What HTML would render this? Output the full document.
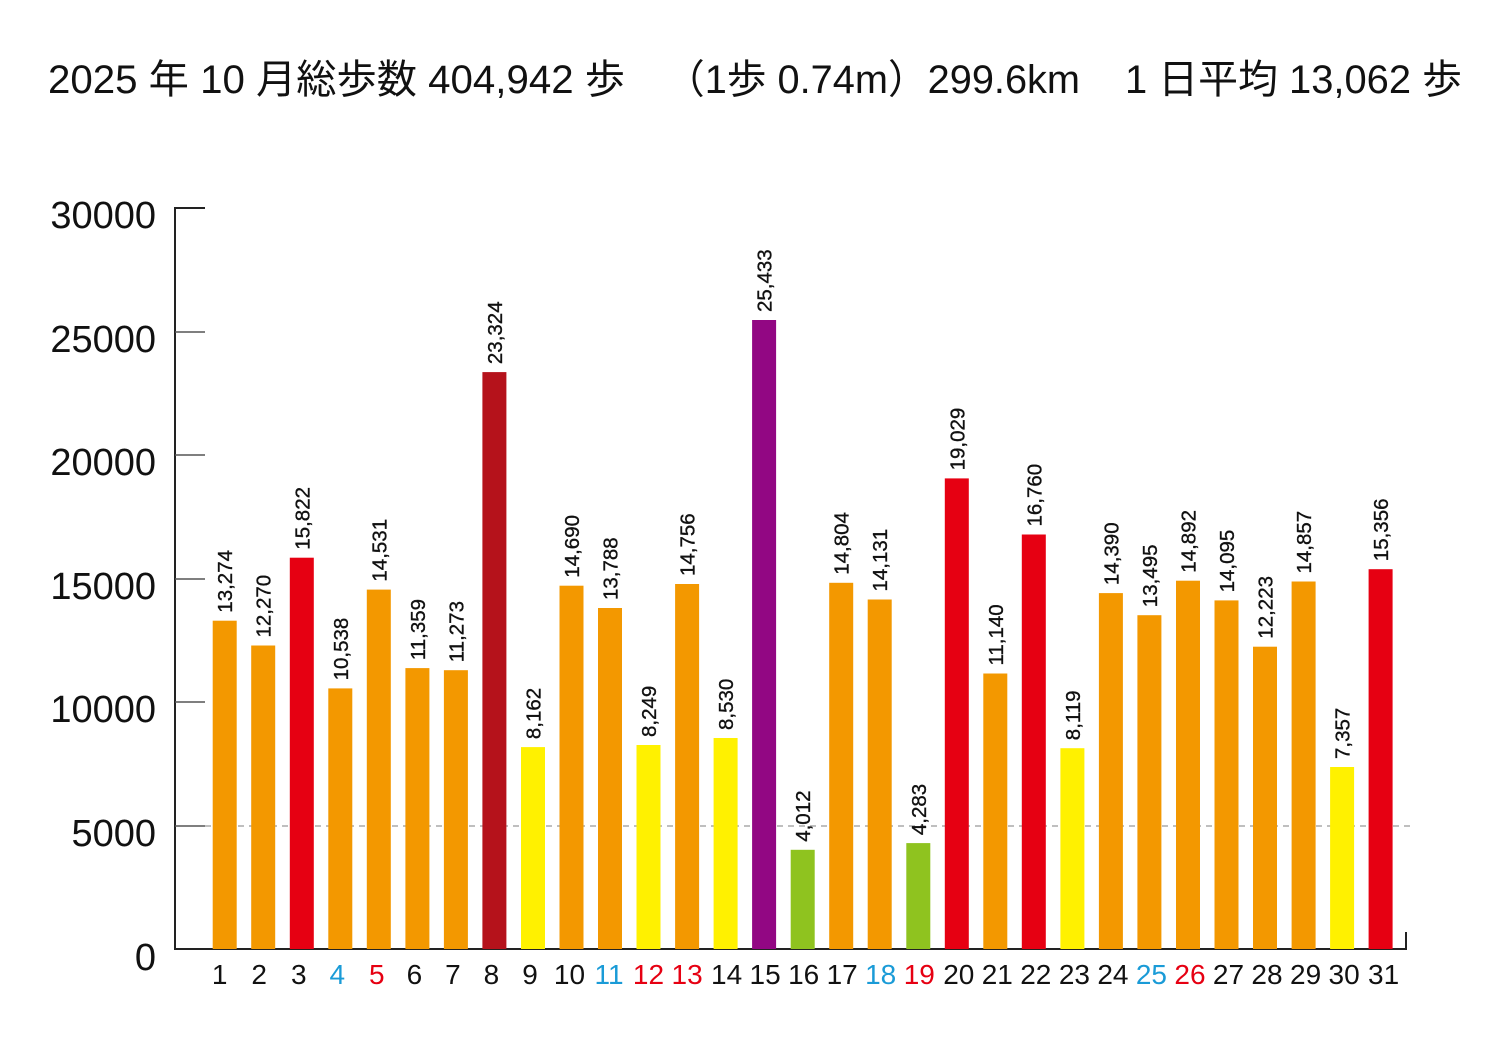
<!DOCTYPE html>
<html><head><meta charset="utf-8"><style>
html,body{margin:0;padding:0;background:#fff;}
svg{display:block;}
.t{font-family:"Liberation Sans","Noto Sans CJK JP",sans-serif;fill:#111;}
.v{font-family:"Liberation Sans",sans-serif;font-size:20.5px;fill:#111;stroke:#111;stroke-width:0.35;}
.x{font-family:"Liberation Sans",sans-serif;font-size:28px;fill:#111;text-anchor:middle;}
.y{font-family:"Liberation Sans",sans-serif;font-size:38px;fill:#111;text-anchor:end;}
</style></head><body>
<svg width="1500" height="1050" viewBox="0 0 1500 1050" xmlns="http://www.w3.org/2000/svg">
<text class="t" x="48" y="93" font-size="40" textLength="577" lengthAdjust="spacingAndGlyphs">2025 年 10 月総歩数 404,942 歩</text>
<text class="t" x="665" y="93" font-size="40" textLength="415" lengthAdjust="spacingAndGlyphs">（1歩  0.74m）299.6km</text>
<text class="t" x="1125" y="93" font-size="40" textLength="337" lengthAdjust="spacingAndGlyphs">1 日平均 13,062 歩</text>

<g stroke="#222" stroke-width="2" fill="none">
<path d="M205 208 H175 V949 H1406 V932"/>
</g>
<g stroke="#555" stroke-width="1.5">
<line x1="175" y1="332" x2="205" y2="332"/>
<line x1="175" y1="455" x2="205" y2="455"/>
<line x1="175" y1="579" x2="205" y2="579"/>
<line x1="175" y1="702" x2="205" y2="702"/>
<line x1="175" y1="826" x2="205" y2="826"/>
</g>
<line x1="205" y1="826" x2="1410" y2="826" stroke="#999" stroke-width="1.2" stroke-dasharray="6,5"/>

<text class="y" x="156" y="228">30000</text>
<text class="y" x="156" y="352">25000</text>
<text class="y" x="156" y="475">20000</text>
<text class="y" x="156" y="599">15000</text>
<text class="y" x="156" y="722">10000</text>
<text class="y" x="156" y="846">5000</text>
<text class="y" x="156" y="970">0</text>

<g>
<rect x="212.7" y="620.7" width="24" height="328.3" fill="#F39800"/>
<rect x="251.2" y="645.5" width="24" height="303.5" fill="#F39800"/>
<rect x="289.8" y="557.7" width="24" height="391.3" fill="#E60012"/>
<rect x="328.3" y="688.4" width="24" height="260.6" fill="#F39800"/>
<rect x="366.8" y="589.6" width="24" height="359.4" fill="#F39800"/>
<rect x="405.4" y="668.1" width="24" height="280.9" fill="#F39800"/>
<rect x="443.9" y="670.2" width="24" height="278.8" fill="#F39800"/>
<rect x="482.4" y="372.1" width="24" height="576.9" fill="#B5121B"/>
<rect x="521.0" y="747.1" width="24" height="201.9" fill="#FFF100"/>
<rect x="559.5" y="585.7" width="24" height="363.3" fill="#F39800"/>
<rect x="598.0" y="608.0" width="24" height="341.0" fill="#F39800"/>
<rect x="636.5" y="745.0" width="24" height="204.0" fill="#FFF100"/>
<rect x="675.1" y="584.0" width="24" height="365.0" fill="#F39800"/>
<rect x="713.6" y="738.0" width="24" height="211.0" fill="#FFF100"/>
<rect x="752.1" y="320.0" width="24" height="629.0" fill="#920783"/>
<rect x="790.7" y="849.8" width="24" height="99.2" fill="#8FC31F"/>
<rect x="829.2" y="582.8" width="24" height="366.2" fill="#F39800"/>
<rect x="867.7" y="599.5" width="24" height="349.5" fill="#F39800"/>
<rect x="906.3" y="843.1" width="24" height="105.9" fill="#8FC31F"/>
<rect x="944.8" y="478.4" width="24" height="470.6" fill="#E60012"/>
<rect x="983.3" y="673.5" width="24" height="275.5" fill="#F39800"/>
<rect x="1021.8" y="534.5" width="24" height="414.5" fill="#E60012"/>
<rect x="1060.4" y="748.2" width="24" height="200.8" fill="#FFF100"/>
<rect x="1098.9" y="593.1" width="24" height="355.9" fill="#F39800"/>
<rect x="1137.4" y="615.2" width="24" height="333.8" fill="#F39800"/>
<rect x="1176.0" y="580.7" width="24" height="368.3" fill="#F39800"/>
<rect x="1214.5" y="600.4" width="24" height="348.6" fill="#F39800"/>
<rect x="1253.0" y="646.7" width="24" height="302.3" fill="#F39800"/>
<rect x="1291.6" y="581.5" width="24" height="367.5" fill="#F39800"/>
<rect x="1330.1" y="767.0" width="24" height="182.0" fill="#FFF100"/>
<rect x="1368.6" y="569.2" width="24" height="379.8" fill="#E60012"/>
</g>

<g>
<text class="v" transform="translate(232.2,612.7) rotate(-90)">13,274</text>
<text class="v" transform="translate(270.7,637.5) rotate(-90)">12,270</text>
<text class="v" transform="translate(309.3,549.7) rotate(-90)">15,822</text>
<text class="v" transform="translate(347.8,680.4) rotate(-90)">10,538</text>
<text class="v" transform="translate(386.3,581.6) rotate(-90)">14,531</text>
<text class="v" transform="translate(424.9,660.1) rotate(-90)">11,359</text>
<text class="v" transform="translate(463.4,662.2) rotate(-90)">11,273</text>
<text class="v" transform="translate(501.9,364.1) rotate(-90)">23,324</text>
<text class="v" transform="translate(540.5,739.1) rotate(-90)">8,162</text>
<text class="v" transform="translate(579.0,577.7) rotate(-90)">14,690</text>
<text class="v" transform="translate(617.5,600.0) rotate(-90)">13,788</text>
<text class="v" transform="translate(656.0,737.0) rotate(-90)">8,249</text>
<text class="v" transform="translate(694.6,576.0) rotate(-90)">14,756</text>
<text class="v" transform="translate(733.1,730.0) rotate(-90)">8,530</text>
<text class="v" transform="translate(771.6,312.0) rotate(-90)">25,433</text>
<text class="v" transform="translate(810.2,841.8) rotate(-90)">4,012</text>
<text class="v" transform="translate(848.7,574.8) rotate(-90)">14,804</text>
<text class="v" transform="translate(887.2,591.5) rotate(-90)">14,131</text>
<text class="v" transform="translate(925.8,835.1) rotate(-90)">4,283</text>
<text class="v" transform="translate(964.3,470.4) rotate(-90)">19,029</text>
<text class="v" transform="translate(1002.8,665.5) rotate(-90)">11,140</text>
<text class="v" transform="translate(1041.3,526.5) rotate(-90)">16,760</text>
<text class="v" transform="translate(1079.9,740.2) rotate(-90)">8,119</text>
<text class="v" transform="translate(1118.4,585.1) rotate(-90)">14,390</text>
<text class="v" transform="translate(1156.9,607.2) rotate(-90)">13,495</text>
<text class="v" transform="translate(1195.5,572.7) rotate(-90)">14,892</text>
<text class="v" transform="translate(1234.0,592.4) rotate(-90)">14,095</text>
<text class="v" transform="translate(1272.5,638.7) rotate(-90)">12,223</text>
<text class="v" transform="translate(1311.1,573.5) rotate(-90)">14,857</text>
<text class="v" transform="translate(1349.6,759.0) rotate(-90)">7,357</text>
<text class="v" transform="translate(1388.1,561.2) rotate(-90)">15,356</text>
</g>

<g>
<text class="x" x="219.7" y="984">1</text>
<text class="x" x="259.2" y="984">2</text>
<text class="x" x="298.8" y="984">3</text>
<text class="x" x="337.3" y="984" style="fill:#1a9bd7">4</text>
<text class="x" x="376.8" y="984" style="fill:#e60012">5</text>
<text class="x" x="414.4" y="984">6</text>
<text class="x" x="452.9" y="984">7</text>
<text class="x" x="491.4" y="984">8</text>
<text class="x" x="530.0" y="984">9</text>
<text class="x" x="569.5" y="984">10</text>
<text class="x" x="609.0" y="984" style="fill:#1a9bd7">11</text>
<text class="x" x="648.5" y="984" style="fill:#e60012">12</text>
<text class="x" x="687.1" y="984" style="fill:#e60012">13</text>
<text class="x" x="726.6" y="984">14</text>
<text class="x" x="765.1" y="984">15</text>
<text class="x" x="803.7" y="984">16</text>
<text class="x" x="842.2" y="984">17</text>
<text class="x" x="880.7" y="984" style="fill:#1a9bd7">18</text>
<text class="x" x="919.3" y="984" style="fill:#e60012">19</text>
<text class="x" x="958.8" y="984">20</text>
<text class="x" x="997.3" y="984">21</text>
<text class="x" x="1035.8" y="984">22</text>
<text class="x" x="1074.4" y="984">23</text>
<text class="x" x="1112.9" y="984">24</text>
<text class="x" x="1151.4" y="984" style="fill:#1a9bd7">25</text>
<text class="x" x="1190.0" y="984" style="fill:#e60012">26</text>
<text class="x" x="1228.5" y="984">27</text>
<text class="x" x="1267.0" y="984">28</text>
<text class="x" x="1305.6" y="984">29</text>
<text class="x" x="1344.1" y="984">30</text>
<text class="x" x="1383.6" y="984">31</text>
</g>
</svg>
</body></html>
